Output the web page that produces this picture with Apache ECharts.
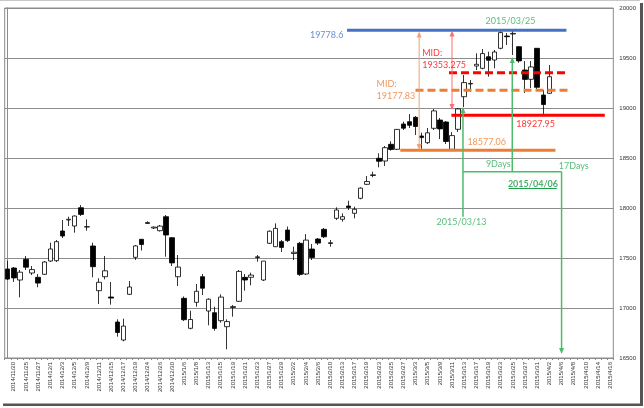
<!DOCTYPE html>
<html><head><meta charset="utf-8">
<script src="https://cdn.jsdelivr.net/npm/echarts@6/dist/echarts.min.js"></script>
<style>html,body{margin:0;padding:0;background:#fff;}#c{width:644px;height:408px;}</style>
</head><body><div id="c"></div>
<script>
const dates = ['2014/11/19','2014/11/20','2014/11/21','2014/11/25','2014/11/26','2014/11/27','2014/11/28','2014/12/1','2014/12/2','2014/12/3','2014/12/4','2014/12/5','2014/12/8','2014/12/9','2014/12/10','2014/12/11','2014/12/12','2014/12/15','2014/12/16','2014/12/17','2014/12/18','2014/12/19','2014/12/22','2014/12/24','2014/12/25','2014/12/26','2014/12/29','2014/12/30','2015/1/5','2015/1/6','2015/1/7','2015/1/8','2015/1/9','2015/1/13','2015/1/14','2015/1/15','2015/1/16','2015/1/19','2015/1/20','2015/1/21','2015/1/22','2015/1/23','2015/1/26','2015/1/27','2015/1/28','2015/1/29','2015/1/30','2015/2/2','2015/2/3','2015/2/4','2015/2/5','2015/2/6','2015/2/9','2015/2/10','2015/2/12','2015/2/13','2015/2/16','2015/2/17','2015/2/18','2015/2/19','2015/2/20','2015/2/23','2015/2/24','2015/2/25','2015/2/26','2015/2/27','2015/3/2','2015/3/3','2015/3/4','2015/3/5','2015/3/6','2015/3/9','2015/3/10','2015/3/11','2015/3/12','2015/3/13','2015/3/16','2015/3/17','2015/3/18','2015/3/19','2015/3/20','2015/3/23','2015/3/24','2015/3/25','2015/3/26','2015/3/27','2015/3/30','2015/3/31','2015/4/1','2015/4/2','2015/4/3','2015/4/6','2015/4/7','2015/4/8','2015/4/9','2015/4/10','2015/4/13','2015/4/14','2015/4/15','2015/4/16'];

const openP = [17390,17400,17280,17487,17350,17307,17337,17470,17473,17770,17880,17820,18003,17810,17620,17173,17313,17110,16860,16680,17137,17507,17687,17845,17800,17773,17913,17703,17313,17097,16797,17057,17313,16970,16953,16873,16813,17005,17067,17307,17307,17505,17280,17647,17613,17663,17780,17545,17647,17340,17590,17690,17787,17645,17897,17887,18020,17947,18097,18237,18325,18497,18470,18637,18587,18840,18863,18907,18720,18653,18797,18880,18860,18587,18787,19113,19240,19420,19397,19513,19480,19597,19720,19740,19613,19380,19287,19597,19130,19147];
const closeP = [17289,17301,17358,17408,17384,17249,17460,17590,17663,17720,17887,17920,17936,17813,17413,17257,17372,17099,16755,16819,17210,17621,17635,17855,17809,17819,17730,17451,17409,16883,16885,17167,17198,17088,16796,17109,16864,17014,17366,17280,17329,17512,17469,17768,17796,17606,17674,17558,17336,17679,17505,17649,17712,17653,17980,17913,18005,17987,18199,18265,18332,18467,18603,18585,18786,18798,18827,18815,18704,18752,18971,18791,18665,18724,18991,19254,19246,19437,19544,19477,19560,19754,19713,19746,19471,19286,19411,19207,19035,19313];
const lowP = [17280,17260,17107,17380,17330,17207,17330,17460,17460,17700,17820,17753,17920,17773,17307,17040,17287,17033,16713,16667,17130,17480,17575,17840,17790,17765,17513,17420,17220,16870,16787,17013,17130,16827,16773,16853,16587,16913,17060,17173,17227,17463,17270,17640,17610,17560,17660,17480,17320,17330,17480,17630,17700,17613,17880,17863,17980,17897,18087,18230,18307,18407,18420,18573,18580,18780,18800,18730,18580,18640,18780,18690,18640,18577,18760,19010,19163,19380,19387,19313,19397,19587,19630,19530,19453,19150,19200,19180,18928,19140];
const highP = [17473,17410,17380,17520,17420,17340,17470,17653,17680,17880,17913,17925,18030,17887,17653,17297,17520,17260,16887,16893,17270,17630,17690,17867,17815,17830,17930,17710,17530,17115,16973,17240,17340,17097,17013,17137,16887,17030,17380,17340,17353,17530,17470,17775,17847,17680,17815,17613,17660,17740,17640,17700,17800,17680,18007,17947,18073,18013,18207,18320,18363,18547,18620,18667,18790,18863,18940,18920,18753,18800,18990,18900,18870,18760,19000,19330,19280,19547,19590,19563,19580,19770,19750,19779,19620,19470,19470,19600,19180,19430];

const yMin = 16500, yMax = 20000, yStep = 500;

const highLevel = 19778.6;
const redMid = 19353.275;
const orangeMid = 19177.83;
const redLow = 18927.95;
const orangeLow = 18577.06;

const candles = openP.map((o, i) => [o, closeP[i], lowP[i], highP[i]]);

const BLUE = '#4472C4', RED = '#FF0000', ORANGE = '#ED7D31', GREEN = '#4CBB6C', GTEXT = '#2FAE5A';
const FONT = 'Lato, "Open Sans", sans-serif';

function seg(pts, color, width, type) {
  return {
    type: 'line', xAxisIndex: 1, yAxisIndex: 0, silent: true, z: 5,
    data: pts.map(p => ({ value: [p[0], p[1]], symbol: p[2] || 'none', symbolRotate: p[3] || 0 })),
    symbolSize: [5, 6], showSymbol: true,
    itemStyle: { color: color },
    lineStyle: { color: color, width: width, type: type || 'solid' },
    animation: false
  };
}

function txt(x, y, text, color, opts) {
  opts = opts || {};
  return {
    value: [x, y],
    label: Object.assign({
      show: true, formatter: text, position: 'inside',
      align: 'center', verticalAlign: 'middle',
      color: color, fontSize: 9, fontFamily: FONT, lineHeight: 12
    }, opts)
  };
}

const chart = echarts.init(document.getElementById('c'), null, { renderer: 'canvas' });
chart.setOption({
  animation: false,
  backgroundColor: '#fff',
  grid: { left: 4.7, right: 30.7, top: 8, bottom: 50, show: true, borderColor: '#8c8c8c', borderWidth: 1, backgroundColor: '#fff' },
  xAxis: [{
    type: 'category', data: dates, boundaryGap: true,
    axisLine: { show: true, lineStyle: { color: '#8c8c8c', width: 1 } },
    axisTick: { show: true, interval: 0, length: 2, inside: false, lineStyle: { color: '#8c8c8c' } },
    axisLabel: { interval: (i) => i % 2 === 1, rotate: 90, fontSize: 6, color: '#333', margin: 4, fontFamily: '"Liberation Sans", Arial, sans-serif' },
    splitLine: { show: false }
  }, {
    type: 'value', min: -0.5, max: 99.5, show: false, position: 'top'
  }],
  yAxis: [{
    type: 'value', position: 'right', min: yMin, max: yMax, interval: yStep,
    axisLine: { show: true, lineStyle: { color: '#8c8c8c' } },
    axisTick: { show: false },
    axisLabel: { fontSize: 6, color: '#333', margin: 6, formatter: (v) => String(v), fontFamily: '"Liberation Sans", Arial, sans-serif' },
    splitLine: { show: true, lineStyle: { color: '#8c8c8c', width: 1 } }
  }],
  series: [
    {
      type: 'candlestick', data: candles, barWidth: 5, z: 3,
      itemStyle: { color: '#ffffff', color0: '#000000', borderColor: '#000000', borderColor0: '#000000', borderWidth: 0.8 }
    },
    seg([[55.75, highLevel], [91.8, highLevel]], BLUE, 3),
    seg([[64.5, orangeLow], [90.0, orangeLow]], ORANGE, 3),
    seg([[72.9, redLow], [98.1, redLow]], RED, 3),
    seg([[72.5, redMid], [91.8, redMid]], RED, 3, [8, 4]),
    seg([[67.0, orangeMid], [92.6, orangeMid]], ORANGE, 3, [8, 4]),
    seg([[67.6, 19735, 'triangle', 0], [67.6, 18610, 'triangle', 180]], '#F4A070', 1),
    seg([[73.0, 19745, 'triangle', 0], [73.0, 19010, 'triangle', 180]], '#FF6F6F', 1),
    seg([[82.9, 19480, 'triangle', 0], [82.9, 18363], [91.0, 18363]], GREEN, 1.5),
    seg([[74.8, 18980, 'triangle', 0], [74.8, 17913]], GREEN, 1.5),
    seg([[74.8, 18363], [82.9, 18363]], GREEN, 1.5),
    seg([[91.0, 18363], [91.0, 16570, 'triangle', 180]], GREEN, 1.5),
    seg([[82.3, 18195], [90.2, 18195]], '#1E9E4A', 1),
    {
      type: 'scatter', xAxisIndex: 1, yAxisIndex: 0, symbol: 'circle', symbolSize: 2, silent: true, z: 6,
      itemStyle: { color: 'rgba(0,0,0,0)' },
      data: [
        txt(52.4, 19730, '19778.6', BLUE),
        txt(68.1, 19490, 'MID:\n19353.275', RED, { align: 'left' }),
        txt(60.6, 19180, 'MID:\n19177.83', ORANGE, { align: 'left' }),
        txt(86.75, 18840, '18927.95', RED),
        txt(78.7, 18655, '18577.06', ORANGE),
        txt(82.6, 19870, '2015/03/25', GTEXT),
        txt(74.55, 17857, '2015/03/13', GTEXT),
        txt(80.6, 18437, '9Days', GTEXT),
        txt(93.0, 18423, '17Days', GTEXT),
        txt(86.3, 18240, '2015/04/06', '#1E9E4A', { fontWeight: 'bold' })
      ]
    }
  ],
  graphic: [
    { type: 'line', shape: { x1: 0, y1: 0.5, x2: 640, y2: 0.5 }, style: { stroke: '#c8c8c8', lineWidth: 1 }, silent: true },
    { type: 'rect', shape: { x: 640, y: 3, width: 3, height: 403 }, style: { fill: '#555' }, silent: true },
    { type: 'rect', shape: { x: 3, y: 403.5, width: 640, height: 2.5 }, style: { fill: '#555' }, silent: true }
  ]
});
</script></body></html>
